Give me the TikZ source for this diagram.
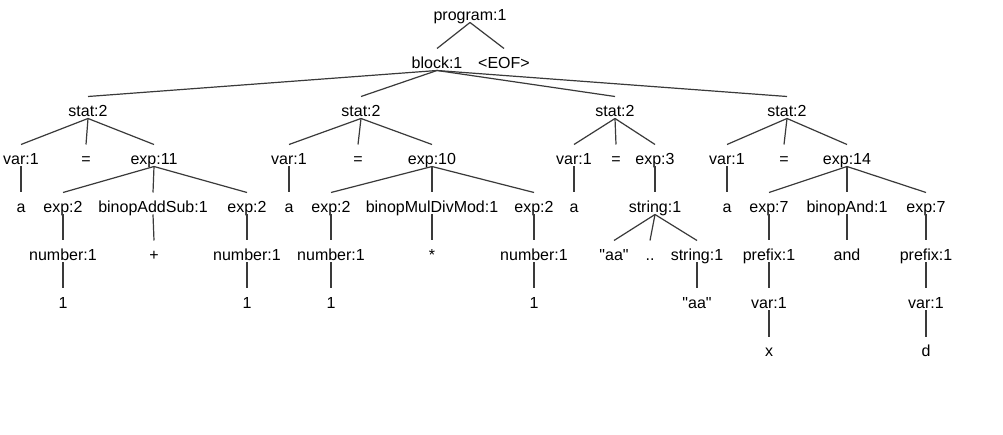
\documentclass[tikz,border=0pt]{standalone}
\usepackage{fontspec}
\setmainfont{Liberation Sans}[Ligatures=TeXOff]
\definecolor{edgeColor}{HTML}{3A3A3A}
\newcommand{\strq}{"aa"}

\begin{document}
\begin{tikzpicture}[x=1pt, y=-1pt, font=\fontsize{16}{19}\selectfont,
	lbl/.style={anchor=base, inner sep=0pt, outer sep=0pt, text height=20pt, text depth=2pt},
	edge/.style={edgeColor, line width=1.2pt}]

	% --- 1. Canvas ---
	\fill[white] (0,0) rectangle (1003,435);

	% --- 2. Rule and token nodes, row by row (baselines 48 apart) ---
	\node[lbl] (prog) at (470, 20.5) {program:1};
	\foreach \n/\x/\t in {block/437/block:1, eof/504/<EOF>}
		\node[lbl] (\n) at (\x, 68.5) {\t};
	\foreach \n/\x in {statA/88, statB/361, statC/615, statD/787}
		\node[lbl] (\n) at (\x, 116.5) {stat:2};
	\foreach \n/\x/\t in {
		varA/21/var:1, eqA/86/=, expA/154/exp:11,
		varB/289/var:1, eqB/358/=, expB/432/exp:10,
		varC/574/var:1, eqC/616/=, expC/655/exp:3,
		varD/727/var:1, eqD/784/=, expD/847/exp:14}
		\node[lbl] (\n) at (\x, 164.5) {\t};
	\foreach \n/\x/\t in {
		aA/21/a, expAl/63/exp:2, opA/153/binopAddSub:1, expAr/247/exp:2,
		aB/289/a, expBl/331/exp:2, opB/432/binopMulDivMod:1, expBr/534/exp:2,
		aC/574/a, strC/655/string:1,
		aD/727/a, expDl/769/exp:7, opD/847/binopAnd:1, expDr/926/exp:7}
		\node[lbl] (\n) at (\x, 212.5) {\t};
	\foreach \n/\x/\t in {
		numAl/63/number:1, plus/154/+, numAr/247/number:1,
		numBl/331/number:1, star/432/*, numBr/534/number:1,
		aaC/614/\strq, dots/650/.., strCC/697/string:1,
		preDl/769/prefix:1, andD/847/and, preDr/926/prefix:1}
		\node[lbl] (\n) at (\x, 260.5) {\t};
	\foreach \n/\x/\t in {
		oneAl/63/1, oneAr/247/1, oneBl/331/1, oneBr/534/1,
		aaCC/697/\strq, varDl/769/var:1, varDr/926/var:1}
		\node[lbl] (\n) at (\x, 308.5) {\t};
	\foreach \n/\x/\t in {tokX/769/x, tokD/926/d}
		\node[lbl] (\n) at (\x, 356.5) {\t};

	% --- 3. Parent to child edges ---
	\foreach \p/\c in {
		prog/block, prog/eof,
		block/statA, block/statB, block/statC, block/statD,
		statA/varA, statA/eqA, statA/expA, varA/aA,
		expA/expAl, expA/opA, expA/expAr,
		expAl/numAl, opA/plus, expAr/numAr, numAl/oneAl, numAr/oneAr,
		statB/varB, statB/eqB, statB/expB, varB/aB,
		expB/expBl, expB/opB, expB/expBr,
		expBl/numBl, opB/star, expBr/numBr, numBl/oneBl, numBr/oneBr,
		statC/varC, statC/eqC, statC/expC, varC/aC, expC/strC,
		strC/aaC, strC/dots, strC/strCC, strCC/aaCC,
		statD/varD, statD/eqD, statD/expD, varD/aD,
		expD/expDl, expD/opD, expD/expDr,
		expDl/preDl, opD/andD, expDr/preDr,
		preDl/varDl, preDr/varDr, varDl/tokX, varDr/tokD}
		\draw[edge] (\p.south) -- (\c.north);

\end{tikzpicture}
\end{document}
